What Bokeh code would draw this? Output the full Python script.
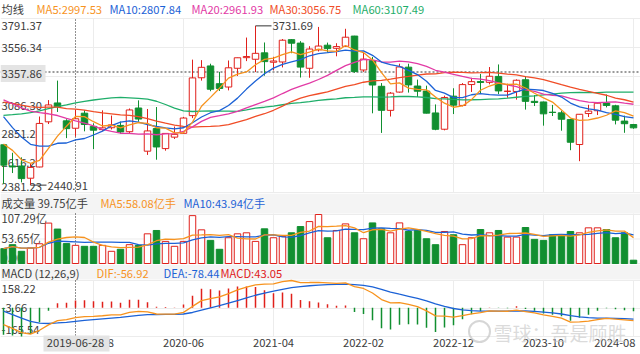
import pandas as pd
from bokeh.plotting import figure
from bokeh.models import Range1d
from bokeh.layouts import column
from bokeh.core.properties import value
from bokeh.embed import file_html
from bokeh.resources import INLINE

# ---------------- data ----------------
months = [str(m) for m in pd.period_range("2018-10", "2024-08", freq="M")]

opens = [2768, 2596, 2596, 2497, 2588, 2954, 3107, 2962, 2902, 3024,
         2917, 2891, 2906, 2925, 2874, 3066, 2716, 2899, 2737, 2830,
         2861, 3004, 3311, 3407, 3263, 3236, 3388, 3474, 3461, 3513,
         3437, 3439, 3620, 3592, 3388, 3537, 3575, 3550, 3566, 3649,
         3374, 3451, 3242, 3047, 3195, 3397, 3244, 3203, 3026, 2894,
         3162, 3087, 3256, 3280, 3274, 3322, 3201, 3200, 3295, 3120,
         3115, 3032, 3027, 2972, 2770, 3021, 3044, 3106, 3084, 2960, 2932]
highs = [2771, 2703, 2666, 2618, 2997, 3130, 3288, 2975, 3050, 3048,
         2942, 3047, 3005, 2956, 3062, 3128, 3058, 3074, 2860, 2916,
         2994, 3458, 3454, 3425, 3359, 3451, 3474, 3637, 3731.69, 3597,
         3481, 3625, 3624, 3608, 3567, 3723, 3596, 3591, 3708, 3651,
         3512, 3480, 3268, 3195, 3425, 3425, 3296, 3247, 3095, 3166,
         3226, 3268, 3311, 3342, 3398, 3419, 3263, 3298, 3323, 3171,
         3118, 3091, 3046, 2976, 3016, 3092, 3113, 3175, 3092, 3004, 2937]
lows = [2449, 2539, 2463, 2440.91, 2585, 2936, 3034, 2822, 2835, 2877,
        2733, 2881, 2892, 2857, 2856, 2955, 2686, 2647, 2720, 2815,
        2857, 2984, 3288, 3202, 3204, 3209, 3326, 3446, 3357, 3328,
        3371, 3395, 3510, 3313, 3311, 3524, 3515, 3485, 3563, 3351,
        3359, 3023, 2864, 2997, 3191, 3191, 3155, 3022, 2886, 2885,
        3017, 3079, 3196, 3183, 3258, 3178, 3149, 3134, 3053, 3082,
        2923, 3001, 2882, 2724, 2635, 2993, 3009, 3071, 2933, 2865, 2898]
closes = [2602.78, 2588.19, 2493.90, 2584.57, 2940.95, 3090.76, 3078.34, 2898.70, 2978.88, 2932.51,
          2886.24, 2905.19, 2929.06, 2871.98, 3050.12, 2976.53, 2880.30, 2750.30, 2860.08, 2852.35,
          2984.67, 3310.01, 3395.68, 3218.05, 3224.53, 3391.76, 3473.07, 3483.07, 3509.08, 3441.91,
          3446.86, 3615.48, 3591.20, 3397.36, 3543.94, 3568.17, 3547.34, 3563.89, 3639.78, 3361.44,
          3462.31, 3252.20, 3047.06, 3186.43, 3398.62, 3253.24, 3202.14, 3024.39, 2893.48, 3151.34,
          3089.26, 3255.67, 3279.61, 3272.86, 3323.27, 3204.56, 3202.06, 3291.04, 3119.88, 3110.48,
          3018.77, 3029.67, 2974.93, 2788.55, 3015.17, 3041.17, 3104.82, 3086.81, 2967.40, 2938.75, 2905.34]
# monthly closes before the visible window (2013-11 .. 2018-09), used by MA/MACD
prior_closes = [2220.50, 2115.98,
                2033.08, 2056.30, 2033.31, 2026.36, 2039.21, 2048.33, 2201.56, 2217.20, 2363.87, 2420.18, 2682.83, 3234.68,
                3210.36, 3310.30, 3747.90, 4441.66, 4611.74, 4277.22, 3663.73, 3205.99, 3052.78, 3382.56, 3445.41, 3539.18,
                2737.60, 2687.98, 3003.92, 2938.32, 2916.62, 2929.61, 2979.34, 3085.49, 3004.70, 3100.49, 3250.03, 3103.64,
                3159.17, 3241.73, 3222.51, 3154.66, 3117.18, 3192.43, 3273.03, 3360.81, 3348.94, 3393.34, 3317.19, 3307.17,
                3480.83, 3259.41, 3168.90, 3082.23, 3095.47, 2847.42, 2876.40, 2725.25, 2821.35]
# volume, 亿手
volumes = [32.5, 41.2, 26.7, 34.0, 43.2, 88.5, 75.4, 43.6, 39.75, 37.6,
           37.6, 39.7, 26.7, 31.1, 41.2, 39.7, 65.0, 72.3, 48.4, 37.6,
           48.4, 104.8, 73.7, 50.6, 31.1, 56.4, 65.0, 67.2, 48.4, 75.9,
           56.4, 59.3, 67.2, 80.9, 91.8, 107.29, 56.4, 72.3, 86.7, 67.2,
           54.2, 88.9, 75.9, 67.2, 88.9, 70.1, 72.3, 54.2, 41.2, 70.1,
           62.9, 41.2, 56.4, 74.4, 67.2, 72.3, 57.8, 57.8, 78.8, 52.8,
           50.6, 62.9, 62.9, 70.1, 67.2, 78.1, 78.1, 74.4, 56.4, 67.2, 7.2]

price_ticks = [3791.37, 3556.34, 3321.32, 3086.30, 2851.28, 2616.25, 2381.23]
vol_ticks = [107.29, 53.65, 0.0]
vol_tick_labels = ["107.29亿", "53.65亿", "0.00"]
macd_ticks = [158.22, -3.66, -165.54]
x_tick_idx = [10, 20, 30, 40, 50, 60, 70]

main_legend = ["均线", "MA5:2997.53", "MA10:2807.84", "MA20:2961.93", "MA30:3056.75", "MA60:3107.49"]
vol_legend = ["成交量 39.75亿手", "MA5:58.08亿手", "MA10:43.94亿手"]
macd_legend = ["MACD (12,26,9)", "DIF:-56.92", "DEA:-78.44", "MACD:43.05"]
cross_idx = 8
cross_price = 3357.86
cross_date = "2019-06-28"
watermark = "雪球：吾是顾胜"

# ---------------- derived indicators ----------------
n = len(months)
s = pd.Series(prior_closes + closes)
ma = {k: s.rolling(k).mean().iloc[-n:].tolist() for k in (5, 10, 20, 30, 60)}
ema12 = s.ewm(span=12, adjust=False).mean()
ema26 = s.ewm(span=26, adjust=False).mean()
dif_all = ema12 - ema26
dea_all = dif_all.ewm(span=9, adjust=False).mean()
dif = dif_all.iloc[-n:].tolist()
dea = dea_all.iloc[-n:].tolist()
macd = (2 * (dif_all - dea_all)).iloc[-n:].tolist()
vs = pd.Series(volumes)
vma5 = vs.rolling(5, min_periods=1).mean().tolist()
vma10 = vs.rolling(10, min_periods=1).mean().tolist()

# ---------------- style ----------------
FONT = value("Noto Sans CJK SC")
FS = "11.2px"
UP = "#e0201b"
DOWN = "#118f30"
C5, C10, C20, C30, C60 = "#f7931e", "#1c62d6", "#e23aa5", "#f04d27", "#1fae6a"
GRID = "#ececec"
TXT = "#3c3c3c"
BAND = "#f4f4f4"
W = 640
XR = (-1 / 3, 637 / 9)


def xpx(px):
    return (px - 3) / 9


def mk_fig(H, pa, va, pb, vb):
    k = (va - vb) / (pb - pa)
    p = figure(width=W, height=H, x_range=Range1d(*XR),
               y_range=Range1d(va - (H - pa) * k, va + pa * k),
               output_backend="svg", toolbar_location=None,
               x_axis_location=None, y_axis_location=None, min_border=0,
               outline_line_color=None, background_fill_color="white",
               border_fill_color="white")
    p.grid.visible = False

    def Y(px):
        return va - (px - pa) * k
    return p, Y


def txt(p, xs, ys, strs, colors, size=FS, align="left", baseline="middle", alpha=1.0):
    p.text(x=xs, y=ys, text=strs, text_color=colors, text_font=FONT,
           text_font_size=size, text_align=align, text_baseline=baseline,
           text_alpha=alpha)


idx = list(range(n))
is_up = [c >= o for o, c in zip(opens, closes)]
edge = [UP if u else DOWN for u in is_up]
fill = ["white" if u else DOWN for u in is_up]
btop = [max(o, c) for o, c in zip(opens, closes)]
bbot = [min(o, c) for o, c in zip(opens, closes)]

# ---------------- main panel (0..193) ----------------
p1, Y1 = mk_fig(193, 18, price_ticks[0], 192, price_ticks[-1])
p1.segment(x0=[xpx(0)] * 7, x1=[xpx(640)] * 7, y0=price_ticks, y1=price_ticks,
           line_color=GRID, line_width=1)
p1.segment(x0=x_tick_idx, x1=x_tick_idx, y0=[Y1(18)] * 7, y1=[Y1(192)] * 7,
           line_color=GRID, line_width=1)
lbl_px = [25, 46.5, 75.5, 104.5, 133, 161.5, 185.5]
txt(p1, [xpx(1)] * 7, [Y1(v) for v in lbl_px], [f"{t:.2f}" for t in price_ticks], TXT)
p1.segment(x0=[xpx(0)], x1=[xpx(640)], y0=[cross_price], y1=[cross_price],
           line_color="#9a9a9a", line_width=1.8, line_dash="2 2")
p1.segment(x0=[cross_idx], x1=[cross_idx], y0=[Y1(19)], y1=[Y1(192)],
           line_color="#222222", line_width=1, line_dash="1 2")
p1.segment(x0=idx, x1=idx, y0=lows, y1=highs, line_color=edge, line_width=1)
p1.vbar(x=idx, width=0.72, top=btop, bottom=bbot, fill_color=fill,
        line_color=edge, line_width=1)
for k, c in ((60, C60), (30, C30), (20, C20), (10, C10), (5, C5)):
    p1.line(idx, ma[k], line_color=c, line_width=1.3)
# high / low markers
hi_i = max(idx, key=lambda i: highs[i])
lo_i = min(idx, key=lambda i: lows[i])
p1.segment(x0=[hi_i], x1=[xpx(271)], y0=[highs[hi_i]], y1=[highs[hi_i]], line_color="#333333", line_width=1)
txt(p1, [xpx(272)], [highs[hi_i]], [f"{highs[hi_i]:.2f}"], TXT)
p1.segment(x0=[lo_i], x1=[xpx(46)], y0=[lows[lo_i]], y1=[lows[lo_i]], line_color="#333333", line_width=1)
txt(p1, [xpx(47)], [lows[lo_i]], [f"{lows[lo_i]:.2f}"], TXT)
# crosshair price box
p1.quad(left=[xpx(0)], right=[xpx(45)], top=[Y1(64.5)], bottom=[Y1(81.5)],
        fill_color="#e4e4e4", line_color=None)
txt(p1, [xpx(1)], [Y1(73)], [f"{cross_price:.2f}"], TXT)
# legend
txt(p1, [xpx(v) for v in (1, 36, 109, 191, 269, 352)], [Y1(8)] * 6, main_legend,
    [TXT, C5, C10, C20, C30, C60])

# ---------------- volume panel (193..264) ----------------
p2, Y2 = mk_fig(71, 21, vol_ticks[0], 70, vol_ticks[-1])
p2.quad(left=[xpx(0)], right=[xpx(640)], top=[Y2(0)], bottom=[Y2(20)],
        fill_color=BAND, line_color=None)
p2.segment(x0=[xpx(0)] * 3, x1=[xpx(640)] * 3, y0=vol_ticks, y1=vol_ticks,
           line_color=GRID, line_width=1)
p2.segment(x0=x_tick_idx, x1=x_tick_idx, y0=[Y2(20)] * 7, y1=[Y2(70)] * 7,
           line_color=GRID, line_width=1)
txt(p2, [xpx(1)] * 3, [Y2(v) for v in (24.5, 44, 64)], vol_tick_labels, TXT)
p2.segment(x0=[cross_idx], x1=[cross_idx], y0=[Y2(20)], y1=[Y2(70)],
           line_color="#222222", line_width=1, line_dash="1 2")
p2.vbar(x=idx, width=0.72, top=volumes, bottom=0, fill_color=fill,
        line_color=edge, line_width=1)
p2.line(idx, vma10, line_color=C10, line_width=1.3)
p2.line(idx, vma5, line_color=C5, line_width=1.3)
txt(p2, [xpx(v) for v in (1, 100, 183)], [Y2(9)] * 3, vol_legend, [TXT, C5, C10])

# ---------------- MACD panel (264..354) ----------------
p3, Y3 = mk_fig(90, 16, macd_ticks[0], 72, macd_ticks[-1])
p3.quad(left=[xpx(0)], right=[xpx(640)], top=[Y3(0)], bottom=[Y3(15)],
        fill_color=BAND, line_color=None)
p3.segment(x0=[xpx(0)] * 3, x1=[xpx(640)] * 3, y0=macd_ticks, y1=macd_ticks,
           line_color=GRID, line_width=1)
p3.segment(x0=x_tick_idx, x1=x_tick_idx, y0=[Y3(16)] * 7, y1=[Y3(72)] * 7,
           line_color=GRID, line_width=1)
txt(p3, [xpx(1)] * 3, [Y3(v) for v in (24, 43, 65)], [f"{t:.2f}" for t in macd_ticks], TXT)
p3.segment(x0=[cross_idx], x1=[cross_idx], y0=[Y3(16)], y1=[Y3(72)],
           line_color="#222222", line_width=1, line_dash="1 2")
p3.segment(x0=idx, x1=idx, y0=[0] * n, y1=macd, line_width=1.5,
           line_color=[UP if m >= 0 else DOWN for m in macd])
p3.line(idx, dea, line_color=C10, line_width=1.3)
p3.line(idx, dif, line_color=C5, line_width=1.3)
txt(p3, [xpx(v) for v in (1, 96, 163, 220)], [Y3(8)] * 4, macd_legend, [TXT, C5, C10, UP])
# x labels
xl = [months[i] for i in x_tick_idx]
txt(p3, x_tick_idx[:-1], [Y3(78)] * 6, xl[:-1], TXT, align="center")
txt(p3, [xpx(635)], [Y3(78)], [xl[-1]], TXT, align="right")
# crosshair date box
p3.quad(left=[xpx(43)], right=[xpx(109)], top=[Y3(71)], bottom=[Y3(87)],
        fill_color="#e4e4e4", line_color=None)
txt(p3, [cross_idx], [Y3(78)], [cross_date], TXT, align="center")
# watermark
p3.scatter(x=[xpx(479)], y=[Y3(67)], size=21, marker="circle", fill_alpha=0,
           line_color="#c4c4c4", line_width=2, line_alpha=0.7)
txt(p3, [xpx(493)], [Y3(68)], [watermark], "#c4c4c4", size="19px", alpha=0.6)

layout = column(p1, p2, p3, spacing=0)
open("out.html", "w").write(file_html(layout, INLINE))
